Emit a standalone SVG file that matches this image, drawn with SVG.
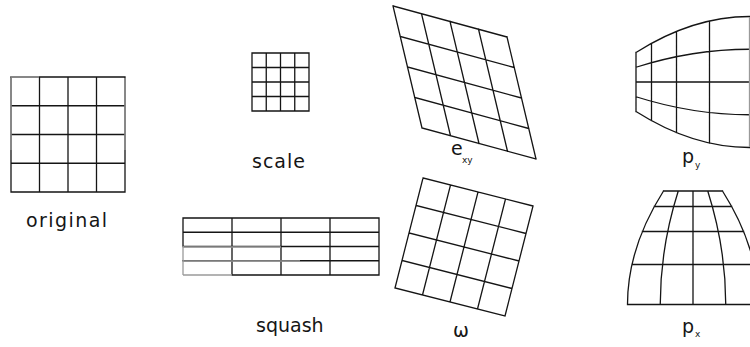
<svg xmlns="http://www.w3.org/2000/svg" width="750" height="347" viewBox="0 0 750 347">
<style>
.g{fill:none;stroke:#151515;stroke-width:1.3;stroke-linecap:square}
.lg{fill:none;stroke:#9a9a9a;stroke-width:1.3}
.t{font-family:"DejaVu Sans",sans-serif;font-size:19px;fill:#151515}
.s{font-family:"DejaVu Sans",sans-serif;font-size:9px;fill:#151515}
</style>
<rect width="750" height="347" fill="#fff"/>
<g id="original">
<path class="g" d="M11,77H125M11,105.75H125M11,134.5H125M11,163.25H125M11,192H125M11,77V192M39.5,77V192M68,77V192M96.5,77V192M125,77V192"/>
<path class="lg" d="M11,77H39M11,78V150M125,78V150"/>
<text class="t" x="26" y="227" textLength="81" lengthAdjust="spacing">original</text>
</g>
<g id="scale">
<path class="g" d="M252,53H309M252,67.5H309M252,82H309M252,96.5H309M252,111H309M252,53V111M266.25,53V111M280.5,53V111M294.75,53V111M309,53V111"/>
<text class="t" x="252" y="168" textLength="53" lengthAdjust="spacing">scale</text>
</g>
<g id="squash">
<path class="g" d="M183,218H379M183,232.25H379M183,246.5H379M183,260.75H379M232,275H379M183,218V246M232,218V275M281,218V275M330,218V275M379,218V275"/>
<path class="lg" d="M183,246V275M183,275H232M183,247H281M183,261H300"/>
<text class="t" x="256" y="332" font-size="17">squash</text>
</g>
<g id="exy">
<path class="g" d="M393,6L422,128M421.5,13.75L450.5,135.75M450,21.5L479,143.5M478.5,29.25L507.5,151.25M507,37L536,159M393,6L507,37M400.25,36.5L514.25,67.5M407.5,67L521.5,98M414.75,97.5L528.75,128.5M422,128L536,159"/>
<text class="t" x="451" y="155" font-size="20">e</text>
<text class="s" x="462" y="163">xy</text>
</g>
<g id="omega">
<path class="g" d="M423,178L395,288M450.5,185L422.5,295M478,192L450,302M505.5,199L477.5,309M533,206L505,316M423,178L533,206M416,205.5L526,233.5M409,233L519,261M402,260.5L512,288.5M395,288L505,316"/>
<text class="t" x="453" y="337" font-size="19">ω</text>
</g>
<g id="py">
<path class="g" d="M636,52.5Q692.75,16.5 749.5,16.5M636,67.25Q692.75,49.25 749.5,49.25M636,82H749.5M636,96.75Q692.75,114.75 749.5,114.75M636,111.5Q692.75,147.5 749.5,147.5M636,52.5V111.5M651.5,43.3V120.7M676.5,31.4V132.6M709.5,21V143"/>
<path class="lg" d="M749.5,17V147"/>
<text class="t" x="682" y="163" font-size="20">p</text>
<text class="s" x="695" y="168">y</text>
</g>
<g id="px">
<path class="g" d="M663.5,191Q627.5,247.75 627.5,304.5M678.25,191Q660.25,247.75 660.25,304.5M693,191V304.5M707.75,191Q725.75,247.75 725.75,304.5M722.5,191Q758.5,247.75 758.5,304.5M663.5,191H722.5M654.3,206.5H731.7M642.4,231.5H743.6M632,264.5H754M627.5,304.5H750"/>
<text class="t" x="682" y="333" font-size="20">p</text>
<text class="s" x="695" y="337">x</text>
</g>
</svg>
